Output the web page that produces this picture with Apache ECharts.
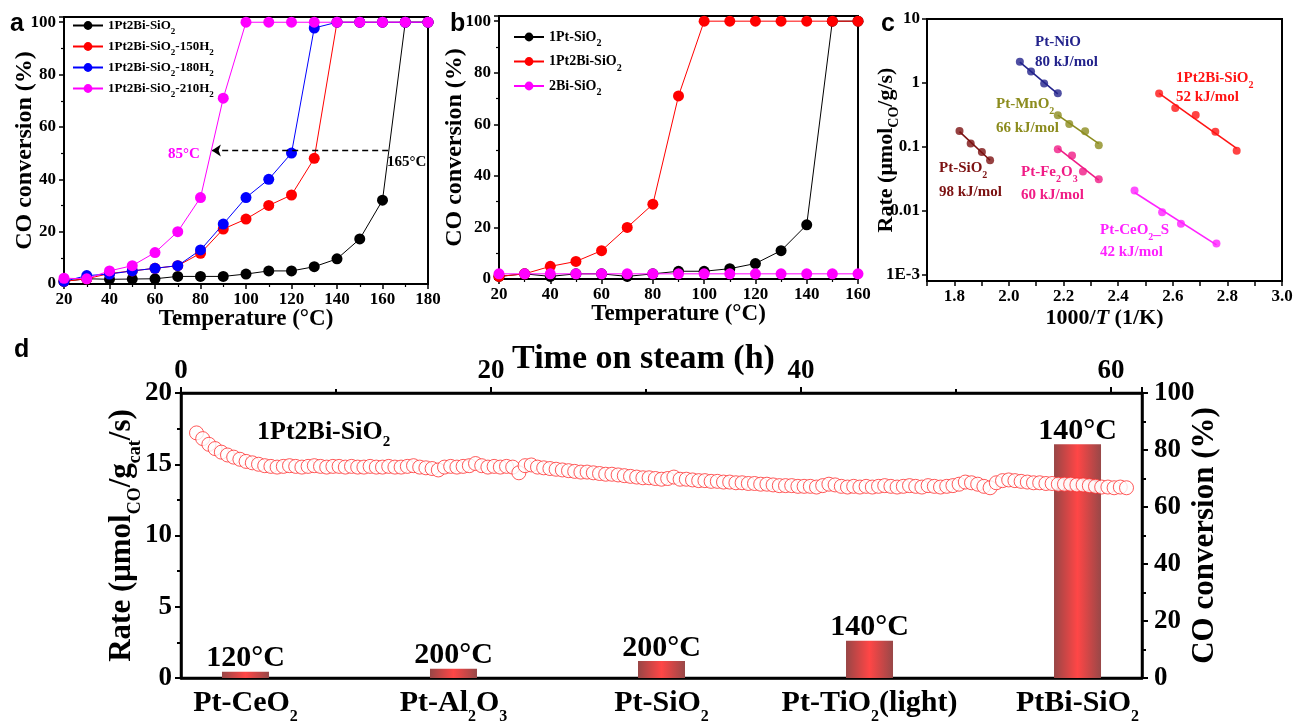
<!DOCTYPE html>
<html><head><meta charset="utf-8">
<script src="https://cdn.jsdelivr.net/npm/echarts@6/dist/echarts.min.js"></script>
<style>html,body{margin:0;padding:0;background:#fff}#c{width:1293px;height:725px}</style>
</head><body><div id="c"></div>
<script>
// ---------------- DATA ----------------
// Panel a
const aTemps = [20,30,40,50,60,70,80,90,100,110,120,130,140,150,160,170,180];
const aLabels = ['1Pt2Bi-SiO_{2}','1Pt2Bi-SiO_{2}-150H_{2}','1Pt2Bi-SiO_{2}-180H_{2}','1Pt2Bi-SiO_{2}-210H_{2}'];
const aBlack   = [1,2,1.8,1.9,2,2.9,2.9,2.9,3.8,5,5,6.6,9.6,17.2,32,100,100];
const aRed     = [1,2,4,5,6,7,11.7,21,24.8,30,34,48,100,100,100,100,100];
const aBlue    = [1,3.2,3.8,5,6,7,13,22.9,33,40,50,97.8,100,100,100,100,100];
const aMagenta = [2.2,2,5,7,12,20,33,71,100,100,100,100,100,100,100,100,100];
const aArrowLevel = 51, aArrowFrom = 162.5, aArrowTo = 85;
const aNotes = ['85°C','165°C'];
// Panel b
const bTemps = [20,30,40,50,60,70,80,90,100,110,120,130,140,150,160];
const bLabels = ['1Pt-SiO_{2}','1Pt2Bi-SiO_{2}','2Bi-SiO_{2}'];
const bBlack   = [1,2,1,2,2,1,2,3,3,4,6,11,21,100,100];
const bRed     = [1,2,4.9,6.8,11,20,29,71,100,100,100,100,100,100,100];
const bMagenta = [2,2,2,2,2,2,2,2,2,2,2,2,2,2,2];
// Panel c (x = 1000/T, y = rate)
const cNiOx = [2.040,2.081,2.129,2.179],  cNiOy = [2.14,1.51,0.98,0.69];
const cMnOx = [2.179,2.221,2.279,2.329],  cMnOy = [0.312,0.228,0.175,0.106];
const cSiOx = [1.819,1.860,1.901,1.931],  cSiOy = [0.177,0.1135,0.083,0.062];
const cFeOx = [2.179,2.231,2.271,2.329],  cFeOy = [0.092,0.0736,0.0413,0.0313];
const cCeOx = [2.460,2.561,2.630,2.760],  cCeOy = [0.0208,0.0095,0.0063,0.0031];
const cPtBix = [2.550,2.609,2.684,2.756,2.834], cPtBiy = [0.684,0.406,0.315,0.173,0.087];
const cNames = ['Pt-NiO','Pt-MnO_{2}','Pt-SiO_{2}','Pt-Fe_{2}O_{3}','Pt-CeO_{2}_S','1Pt2Bi-SiO_{2}'];
const cEa = ['80 kJ/mol','66 kJ/mol','98 kJ/mol','60 kJ/mol','42 kJ/mol','52 kJ/mol'];
// Panel d
const dCats = ['Pt-CeO_{2}','Pt-Al_{2}O_{3}','Pt-SiO_{2}','Pt-TiO_{2}(light)','PtBi-SiO_{2}'];
const dRates = [0.44,0.65,1.2,2.62,16.4];
const dTemps = ['120°C','200°C','200°C','140°C','140°C'];
const dTime = [1.0,1.4,1.8,2.2,2.6,3.0,3.4,3.8,4.2,4.6,
 5.0,5.4,5.8,6.2,6.6,7.0,7.4,7.8,8.2,8.6,
 9.0,9.4,9.8,10.2,10.6,11.0,11.4,11.8,12.2,12.6,
 13.0,13.4,13.8,14.2,14.6,15.0,15.4,15.8,16.2,16.6,
 17.0,17.4,17.8,18.2,18.6,19.0,19.4,19.8,20.2,20.6,
 21.0,21.4,21.8,22.2,22.6,23.0,23.4,23.8,24.2,24.6,
 25.0,25.4,25.8,26.2,26.6,27.0,27.4,27.8,28.2,28.6,
 29.0,29.4,29.8,30.2,30.6,31.0,31.4,31.8,32.2,32.6,
 33.0,33.4,33.8,34.2,34.6,35.0,35.4,35.8,36.2,36.6,
 37.0,37.4,37.8,38.2,38.6,39.0,39.4,39.8,40.2,40.6,
 41.0,41.4,41.8,42.2,42.6,43.0,43.4,43.8,44.2,44.6,
 45.0,45.4,45.8,46.2,46.6,47.0,47.4,47.8,48.2,48.6,
 49.0,49.4,49.8,50.2,50.6,51.0,51.4,51.8,52.2,52.6,
 53.0,53.4,53.8,54.2,54.6,55.0,55.4,55.8,56.2,56.6,
 57.0,57.4,57.8,58.2,58.6,59.0,59.4,59.8,60.2,60.6,61.0];
const dRate = [17.2,16.8,16.4,16.1,15.85,15.65,15.5,15.35,15.2,15.1,
 15.0,14.9,14.85,14.8,14.85,14.9,14.85,14.8,14.85,14.9,
 14.85,14.8,14.85,14.85,14.8,14.85,14.8,14.8,14.85,14.8,
 14.8,14.85,14.8,14.8,14.85,14.9,14.8,14.75,14.7,14.6,
 14.8,14.85,14.8,14.85,14.9,15.05,14.9,14.8,14.85,14.8,
 14.85,14.8,14.4,14.9,14.95,14.8,14.75,14.7,14.65,14.6,
 14.55,14.5,14.45,14.45,14.4,14.35,14.3,14.3,14.25,14.2,
 14.15,14.1,14.05,14.05,14.0,13.95,14.0,14.1,13.95,13.95,
 13.9,13.85,13.85,13.8,13.8,13.75,13.75,13.7,13.7,13.65,
 13.65,13.6,13.6,13.55,13.5,13.5,13.5,13.45,13.45,13.45,
 13.4,13.5,13.6,13.55,13.45,13.4,13.45,13.4,13.45,13.4,
 13.45,13.5,13.45,13.4,13.45,13.5,13.45,13.4,13.5,13.45,
 13.4,13.45,13.5,13.6,13.75,13.7,13.6,13.45,13.35,13.7,
 13.85,13.9,13.85,13.8,13.75,13.7,13.7,13.65,13.65,13.6,
 13.6,13.6,13.55,13.55,13.5,13.45,13.4,13.4,13.35,13.4,13.35];
const dSample = '1Pt2Bi-SiO_{2}';

// ---------------- HELPERS ----------------
const SERIF = '"Liberation Serif","Times New Roman",serif';
const SANS = '"Liberation Sans",Arial,sans-serif';
function rich(str){
  const parts = str.split(/_\{([^}]*)\}/);
  let out = '';
  parts.forEach((p,i)=>{ if(!p) return; out += '{' + (i%2 ? 's' : 'n') + '|' + p + '}'; });
  return out;
}
function rs(size, sub, off, color, zr){
  const L = Math.max(Math.round(size*1.2), 2*off + sub);
  const c = zr ? {fill: color} : {color: color};
  const base = Object.assign({fontFamily: SERIF, fontWeight: 'bold'}, c);
  return {
    n: Object.assign({}, base, {fontSize: size, lineHeight: L}),
    s: Object.assign({}, base, {fontSize: sub, lineHeight: L - 2*off, verticalAlign: 'bottom'}),
    i: Object.assign({}, base, {fontSize: size, lineHeight: L, fontStyle: 'italic'})
  };
}
function merge(a, b){
  const o = Array.isArray(a) ? a.slice() : Object.assign({}, a);
  for (const k in b){
    if (b[k] && typeof b[k] === 'object' && !Array.isArray(b[k]) && a[k] && typeof a[k] === 'object') o[k] = merge(a[k], b[k]);
    else o[k] = b[k];
  }
  return o;
}
function ax(extra, big){
  const base = {
    axisLine: {show: true, onZero: false, lineStyle: {color: '#000', width: big ? 2.5 : 2}},
    axisTick: {show: true, inside: false, length: big ? 6 : 5, lineStyle: {color: '#000', width: big ? 2 : 1.5}},
    minorTick: {show: true, splitNumber: 2, length: big ? 4 : 3, lineStyle: {color: '#000', width: big ? 2 : 1.2}},
    splitLine: {show: false},
    axisLabel: {color: '#000', fontFamily: SERIF, fontWeight: 'bold', fontSize: big ? 27 : 17, margin: 7},
    nameTextStyle: {color: '#000', fontFamily: SERIF, fontWeight: 'bold', fontSize: big ? 31 : 23},
    nameLocation: 'middle',
    nameMoveOverlap: false
  };
  return merge(base, extra);
}
function fitLine(xs, ys){
  const n = xs.length, ly = ys.map(v => Math.log10(v));
  const mx = xs.reduce((s,v)=>s+v,0)/n, my = ly.reduce((s,v)=>s+v,0)/n;
  let sxy = 0, sxx = 0;
  for (let i=0;i<n;i++){ sxy += (xs[i]-mx)*(ly[i]-my); sxx += (xs[i]-mx)*(xs[i]-mx); }
  const b = sxy/sxx, a = my - b*mx;
  const x0 = Math.min(...xs), x1 = Math.max(...xs);
  return [[x0, Math.pow(10, a+b*x0)], [x1, Math.pow(10, a+b*x1)]];
}
function gtext(x, y, str, size, sub, off, color, extra){
  return Object.assign({type: 'text', x: x, y: y, z: 100,
    style: {text: rich(str), rich: rs(size, sub, off, color, true), fill: color,
      fontFamily: SERIF, fontWeight: 'bold', fontSize: size, align: 'left', verticalAlign: 'middle'}}, extra || {});
}

// ---------------- SERIES ----------------
const series = [];
[[aBlack,'#000000'],[aRed,'#ff0000'],[aBlue,'#0000ff'],[aMagenta,'#ff00ff']].forEach(([vals,col],i)=>{
  const s = {type: 'line', name: 'a:' + aLabels[i], xAxisIndex: 0, yAxisIndex: 0,
    data: aTemps.map((t,j)=>[t, vals[j]]), symbol: 'circle', symbolSize: 11, showAllSymbol: true,
    itemStyle: {color: col}, lineStyle: {color: col, width: 1}, z: 2+i};
  if (i === 0){
    s.markLine = {silent: true, symbol: ['none','arrow'], symbolSize: 9, label: {show: false},
      lineStyle: {color: '#000', type: [6,4], width: 1.3},
      data: [[{coord: [aArrowFrom, aArrowLevel]}, {coord: [aArrowTo, aArrowLevel]}]]};
  }
  series.push(s);
});
[[bBlack,'#000000'],[bRed,'#ff0000'],[bMagenta,'#ff00ff']].forEach(([vals,col],i)=>{
  series.push({type: 'line', name: 'b:' + bLabels[i], xAxisIndex: 1, yAxisIndex: 1,
    data: bTemps.map((t,j)=>[t, vals[j]]), symbol: 'circle', symbolSize: 11, showAllSymbol: true,
    itemStyle: {color: col}, lineStyle: {color: col, width: 1}, z: 2+i});
});
const cSets = [[cNiOx,cNiOy,'#23238c'],[cMnOx,cMnOy,'#8c8c1e'],[cSiOx,cSiOy,'#7c1212'],
               [cFeOx,cFeOy,'#f01c86'],[cCeOx,cCeOy,'#ff22ff'],[cPtBix,cPtBiy,'#ff1414']];
cSets.forEach(([xs,ys,col],i)=>{
  series.push({type: 'line', name: 'cfit' + i, xAxisIndex: 2, yAxisIndex: 2, data: fitLine(xs, ys),
    showSymbol: false, symbol: 'none', lineStyle: {color: col, width: 1.6}, z: 2});
  series.push({type: 'scatter', name: 'c' + i, xAxisIndex: 2, yAxisIndex: 2,
    data: xs.map((x,j)=>[x, ys[j]]), symbolSize: 8, itemStyle: {color: col}, z: 3});
});
series.push({type: 'bar', name: 'rate', xAxisIndex: 3, yAxisIndex: 3, barWidth: 47,
  data: dRates.map((v,i)=>[i, v]),
  itemStyle: {color: new echarts.graphic.LinearGradient(0,0,1,0,[
    {offset: 0, color: '#984646'},{offset: 0.5, color: '#ff4646'},{offset: 1, color: '#984848'}])},
  label: {show: true, position: 'top', distance: -2, color: '#000', fontFamily: SERIF, fontWeight: 'bold', fontSize: 30,
    lineHeight: 30, formatter: p => dTemps[p.dataIndex]}, z: 2});
series.push({type: 'scatter', name: 'tos', xAxisIndex: 4, yAxisIndex: 3,
  data: dTime.map((t,i)=>[t, dRate[i]]), symbol: 'circle', symbolSize: 14,
  itemStyle: {color: '#ffffff', borderColor: '#ff3030', borderWidth: 1}, z: 5});

// ---------------- OPTION ----------------
const legendRichA = rs(13, 9, 6, '#000');
const legendRichB = rs(14, 10, 6.5, '#000');
const gridBase = {show: true, borderColor: '#000', borderWidth: 2, outerBoundsMode: 'none', containLabel: false};
const option = {
  animation: false,
  backgroundColor: '#ffffff',
  grid: [
    Object.assign({}, gridBase, {left: 64, top: 17, width: 364, height: 267}),
    Object.assign({}, gridBase, {left: 499, top: 16, width: 359, height: 263}),
    Object.assign({}, gridBase, {left: 927, top: 19, width: 355, height: 262}),
    Object.assign({}, gridBase, {left: 181, top: 393, width: 961, height: 285, borderWidth: 2.5})
  ],
  legend: [
    {orient: 'vertical', left: 67, top: 14, itemWidth: 30, itemHeight: 11, itemGap: 4,
     data: aLabels.map(l => 'a:' + l), formatter: n => rich(n.slice(2)),
     textStyle: {rich: legendRichA, fontFamily: SERIF, fontWeight: 'bold', fontSize: 13, color: '#000'}},
    {orient: 'vertical', left: 508, top: 25, itemWidth: 30, itemHeight: 11, itemGap: 6,
     data: bLabels.map(l => 'b:' + l), formatter: n => rich(n.slice(2)),
     textStyle: {rich: legendRichB, fontFamily: SERIF, fontWeight: 'bold', fontSize: 14, color: '#000'}}
  ],
  xAxis: [
    ax({gridIndex: 0, type: 'value', min: 20, max: 180, interval: 20, name: 'Temperature (°C)', nameGap: 24}),
    ax({gridIndex: 1, type: 'value', min: 20, max: 160, interval: 20, name: 'Temperature (°C)', nameGap: 24}),
    ax({gridIndex: 2, type: 'value', min: 1.7, max: 3.0, interval: 0.1, minorTick: {show: false},
        axisLabel: {formatter: v => { const k = Math.round(v*10); return k % 2 === 0 ? (k/10).toFixed(1) : ''; }},
        name: '{n|1000/}{i|T}{n| (1/K)}', nameGap: 22,
        nameTextStyle: {rich: rs(22, 14, 8, '#000')}}),
    ax({gridIndex: 3, type: 'value', min: -0.31, max: 4.31, axisTick: {show: false}, minorTick: {show: false},
        axisLabel: {customValues: [0,1,2,3,4], margin: 3, formatter: v => rich(dCats[Math.round(v)]),
          rich: rs(30, 16, 14, '#000')}}, true),
    ax({gridIndex: 3, type: 'value', position: 'top', min: 0, max: 62, interval: 20,
        axisLabel: {showMaxLabel: false, margin: 8},
        name: 'Time on steam (h)', nameGap: 17, nameTextStyle: {fontSize: 34, padding: [0, 36, 0, 0]}}, true)
  ],
  yAxis: [
    ax({gridIndex: 0, type: 'value', min: 0, max: 102, interval: 20, axisLabel: {showMaxLabel: false, margin: 8},
        name: 'CO conversion (%)', nameGap: 27, nameTextStyle: {fontSize: 24}}),
    ax({gridIndex: 1, type: 'value', min: 0, max: 102, interval: 20, axisLabel: {showMaxLabel: false, margin: 8},
        name: 'CO conversion (%)', nameGap: 32, nameTextStyle: {fontSize: 24}}),
    ax({gridIndex: 2, type: 'log', logBase: 10, min: 0.0008, max: 10, minorTick: {show: false},
        axisLabel: {showMinLabel: false, margin: 7,
          formatter: v => (Math.abs(v - 0.001) < 1e-9 ? '1E-3' : String(+Number(v).toPrecision(3)))},
        name: '{n|Rate (μmol}{s|CO}{n|/g/s)}', nameGap: 26,
        nameTextStyle: {rich: rs(22, 14, 8, '#000')}}),
    ax({gridIndex: 3, type: 'value', min: 0, max: 20, interval: 5, axisLabel: {margin: 9},
        name: '{n|Rate (μmol}{s|CO}{n|/g}{s|cat}{n|/s)}', nameGap: 37,
        nameTextStyle: {rich: rs(31, 18, 13, '#000')}}, true),
    ax({gridIndex: 3, type: 'value', position: 'right', min: 0, max: 100, interval: 20, axisLabel: {margin: 12},
        name: 'CO conversion (%)', nameGap: 47}, true)
  ],
  graphic: [
    {type: 'text', x: 10, y: 24, z: 100, style: {text: 'a', fill: '#000', font: 'bold 25px ' + SANS, verticalAlign: 'middle'}},
    {type: 'text', x: 450, y: 24, z: 100, style: {text: 'b', fill: '#000', font: 'bold 25px ' + SANS, verticalAlign: 'middle'}},
    {type: 'text', x: 881, y: 24, z: 100, style: {text: 'c', fill: '#000', font: 'bold 25px ' + SANS, verticalAlign: 'middle'}},
    {type: 'text', x: 14, y: 350, z: 100, style: {text: 'd', fill: '#000', font: 'bold 25px ' + SANS, verticalAlign: 'middle'}},
    gtext(168, 154, aNotes[0], 15, 10, 6, '#ff00ff'),
    gtext(387, 162, aNotes[1], 15, 10, 6, '#000000'),
    gtext(1035, 42, cNames[0], 15, 10, 7, '#23238c'), gtext(1035, 62, cEa[0], 15, 10, 7, '#23238c'),
    gtext(996, 104, cNames[1], 15, 10, 7, '#8c8c1e'), gtext(996, 128, cEa[1], 15, 10, 7, '#8c8c1e'),
    gtext(939, 168, cNames[2], 15, 10, 7, '#7c1212'), gtext(939, 192, cEa[2], 15, 10, 7, '#7c1212'),
    gtext(1021, 172, cNames[3], 15, 10, 7, '#f01c86'), gtext(1021, 195, cEa[3], 15, 10, 7, '#f01c86'),
    gtext(1100, 230, cNames[4], 15, 10, 7, '#ff22ff'), gtext(1100, 252, cEa[4], 15, 10, 7, '#ff22ff'),
    gtext(1176, 78, cNames[5], 15, 10, 7, '#ff1414'), gtext(1176, 97, cEa[5], 15, 10, 7, '#ff1414'),
    gtext(257, 432, dSample, 26, 15, 10, '#000000')
  ],
  series: series
};
const chart = echarts.init(document.getElementById('c'));
chart.setOption(option);
</script></body></html>
